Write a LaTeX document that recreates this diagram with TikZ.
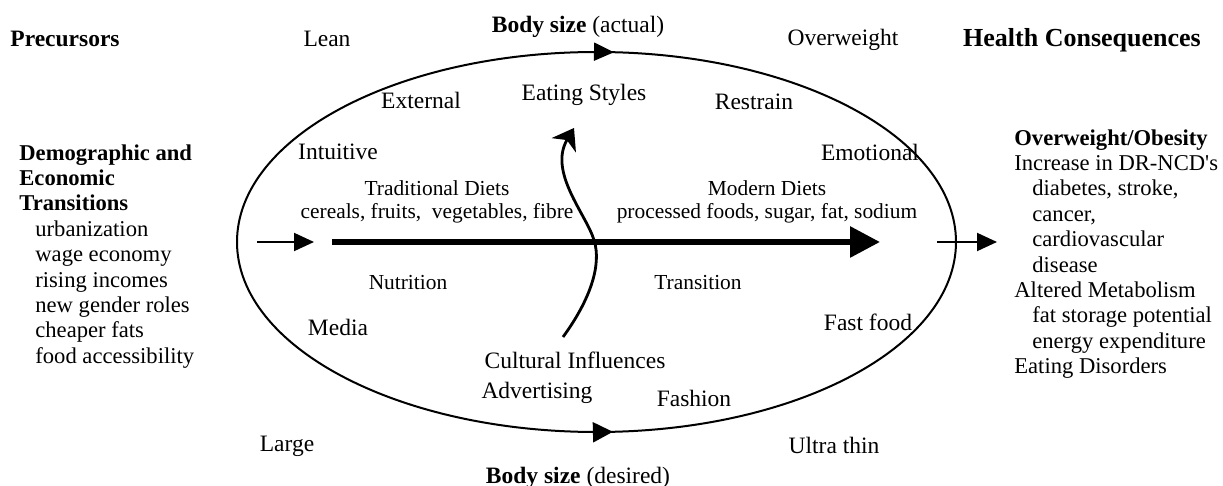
\documentclass[tikz,border=0pt]{standalone}
\usepackage{fontspec}
\setmainfont{Liberation Serif}
\usetikzlibrary{arrows.meta, decorations.markings, positioning}

\begin{document}
\begin{tikzpicture}[
        x=0.5pt, y=-0.5pt,
        every node/.style={font=\fontsize{11.75}{12.7}\selectfont, inner sep=0pt},
        head/.style={font=\fontsize{11.75}{12.7}\selectfont\bfseries},
        small/.style={font=\fontsize{10.7}{12}\selectfont},
        list/.style={align=left, anchor=north west, font=\fontsize{11.3}{12.7}\selectfont},
        thinarrow/.style={-{Triangle[length=10pt, width=9pt]}, line width=1pt},
        bigarrow/.style={-{Triangle[length=15pt, width=15pt]}, line width=3pt},
        wave/.style={-{Stealth[length=10pt, width=14pt, inset=3pt]}, line width=1.4pt},
        oval/.style={line width=1pt, postaction={decorate}, decoration={markings,
            mark=at position 0.2407 with {\arrowreversed{Triangle[length=10pt, width=10pt]}},
            mark=at position 0.7599 with {\arrow{Triangle[length=10pt, width=9pt]}}}}
    ]
    \useasboundingbox (0,0) rectangle (1223,486);

    % Oval of the nutrition transition
    \draw[oval] (596.5,242) ellipse [x radius=359.5, y radius=190];

    % Column heads
    \node[head, anchor=west] (prec) at (10,39) {Precursors};
    \node[head, font=\fontsize{13}{14}\selectfont\bfseries] (health) at (1082,40) {Health Consequences};

    % Body size
    \node (actual) at (578,27) {\textbf{Body size} (actual)};
    \node (desired) at (578,478) {\textbf{Body size} (desired)};
    \node (lean) at (327,39) {Lean};
    \node (over) at (843,40) {Overweight};
    \node (large) at (287,446) {Large};
    \node (ultra) at (834,445) {Ultra thin};

    % Eating styles
    \node (eat) at (584,95) {Eating Styles};
    \node (ext) at (421,100) {External};
    \node (restr) at (754,102) {Restrain};
    \node (intu) at (338,152) {Intuitive};
    \node (emo) at (870,152) {Emotional};

    % Diets
    \node[small] (trad) at (437,188) {Traditional Diets};
    \node[small] (tradlist) at (437,213) {cereals, fruits,\ \ vegetables, fibre};
    \node[small] (modern) at (767,188) {Modern Diets};
    \node[small] (modlist) at (767,213) {processed foods, sugar, fat, sodium};
    \node[small] (nutr) at (408,283) {Nutrition};
    \node[small] (trans) at (698,283) {Transition};

    % Cultural influences
    \node (media) at (338,327) {Media};
    \node (fast) at (868,322) {Fast food};
    \node (cult) at (575,360) {Cultural Influences};
    \node (adv) at (537,393) {Advertising};
    \node (fash) at (694,398) {Fashion};

    % Side lists
    \node[list] (demog) at (19,144) {
        \textbf{Demographic and}\\
        \textbf{Economic}\\
        \textbf{Transitions}\\
        \hspace*{8pt}urbanization\\
        \hspace*{8pt}wage economy\\
        \hspace*{8pt}rising incomes\\
        \hspace*{8pt}new gender roles\\
        \hspace*{8pt}cheaper fats\\
        \hspace*{8pt}food accessibility
    };
    \node[list] (obes) at (1014,129) {
        \textbf{Overweight/Obesity}\\
        Increase in DR-NCD\textquotesingle s\\
        \hspace*{9pt}diabetes, stroke,\\
        \hspace*{9pt}cancer,\\
        \hspace*{9pt}cardiovascular\\
        \hspace*{9pt}disease\\
        Altered Metabolism\\
        \hspace*{9pt}fat storage potential\\
        \hspace*{9pt}energy expenditure\\
        Eating Disorders
    };

    % Arrows
    \coordinate (precout) at (257,242);
    \coordinate (ovalin) at (314,242);
    \coordinate (dietstart) at (332,242);
    \coordinate (dietend) at (880,242);
    \coordinate (ovalout) at (937,242);
    \coordinate (healthin) at (997,242);
    \coordinate (wavebot) at (563,337);
    \coordinate (wavetop) at (574,128);
    \draw[thinarrow] (precout) -- (ovalin);
    \draw[bigarrow] (dietstart) -- (dietend);
    \draw[thinarrow] (ovalout) -- (healthin);
    \draw[wave] (wavebot) .. controls (590,300) and (602,265) .. (594,240)
        .. controls (586,214) and (548,172) .. (wavetop);
\end{tikzpicture}
\end{document}
